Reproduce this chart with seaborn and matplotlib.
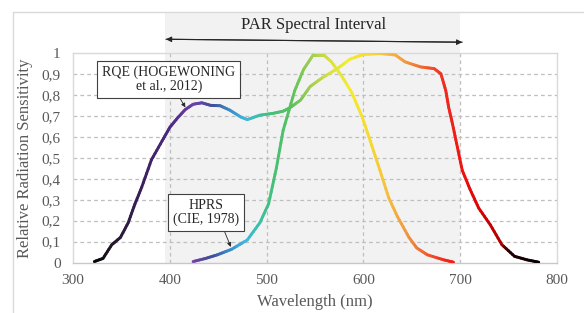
import numpy as np
import pandas as pd
import matplotlib
matplotlib.use("Agg")
import matplotlib.pyplot as plt
import seaborn as sns
from matplotlib.colors import LinearSegmentedColormap
from matplotlib.patches import Rectangle
from matplotlib.lines import Line2D

# RQE (Hogewoning et al., 2012)
rqe_wl = [322, 331, 340, 349, 357, 364, 371, 381, 392, 400, 408, 416, 424, 433,
          442, 452, 462, 473, 480, 493, 507, 517, 524, 535, 545, 557, 573, 586,
          600, 617, 633, 643, 659, 673, 680, 685, 688, 692, 697, 702, 710, 719,
          731, 743, 756, 769, 781]
rqe_val = [0.005, 0.02, 0.085, 0.12, 0.19, 0.28, 0.36, 0.49, 0.58, 0.645, 0.69, 0.73, 0.755, 0.762,
           0.75, 0.748, 0.727, 0.695, 0.682, 0.703, 0.712, 0.722, 0.738, 0.775, 0.84, 0.88, 0.925, 0.97,
           0.993, 0.997, 0.99, 0.957, 0.933, 0.925, 0.9, 0.82, 0.74, 0.66, 0.55, 0.44, 0.35, 0.26,
           0.18, 0.085, 0.03, 0.013, 0.002]

# HPRS (CIE, 1978)
hprs_wl = [424, 437, 449, 464, 480, 493, 502, 510, 517, 529, 538, 548, 559, 567,
           578, 588, 599, 607, 617, 626, 635, 647, 655, 666, 683, 693]
hprs_val = [0.005, 0.02, 0.037, 0.064, 0.108, 0.19, 0.28, 0.45, 0.63, 0.82, 0.92, 0.99, 0.99, 0.957,
            0.886, 0.81, 0.69, 0.58, 0.44, 0.31, 0.22, 0.12, 0.07, 0.037, 0.013, 0.002]

x_ticks = [300, 400, 500, 600, 700, 800]
y_ticks = [0, 0.1, 0.2, 0.3, 0.4, 0.5, 0.6, 0.7, 0.8, 0.9, 1]
y_labels = ['0', '0,1', '0,2', '0,3', '0,4', '0,5', '0,6', '0,7', '0,8', '0,9', '1']
par_range = [395, 700]

# Colores segun la longitud de onda
spec_stops = [(320, '#000000'), (340, '#241828'), (370, '#3a1f5c'), (400, '#4b2a80'),
              (425, '#7040a8'), (445, '#3d4f9a'), (462, '#3a8cc8'), (478, '#3fb6e0'),
              (492, '#3cc0a8'), (505, '#44c07a'), (525, '#58c060'), (545, '#9ccc50'),
              (565, '#d6e040'), (585, '#f3ec30'), (605, '#f5dc30'), (625, '#f5c040'),
              (645, '#f09840'), (665, '#f06030'), (685, '#f02a20'), (705, '#ee1010'),
              (725, '#d40000'), (743, '#b00000'), (752, '#200000'), (790, '#000000')]
lo, hi = spec_stops[0][0], spec_stops[-1][0]
cmap = LinearSegmentedColormap.from_list(
    'spec', [((w - lo) / (hi - lo), c) for w, c in spec_stops])


def segmentos(wl, val, nombre, k=6):
    # cada tramo recto se parte en k trozos solo para el degradado de color
    filas, colores = [], []
    seg = 0
    for i in range(len(wl) - 1):
        for j in range(k):
            t0, t1 = j / k, (j + 1) / k
            x0 = wl[i] + (wl[i + 1] - wl[i]) * t0
            x1 = wl[i] + (wl[i + 1] - wl[i]) * t1
            y0 = val[i] + (val[i + 1] - val[i]) * t0
            y1 = val[i] + (val[i + 1] - val[i]) * t1
            sid = f'{nombre}{seg}'
            filas.append((sid, x0, y0))
            filas.append((sid, x1, y1))
            colores.append((sid, cmap(((x0 + x1) / 2 - lo) / (hi - lo))))
            seg += 1
    return filas, colores


filas_r, col_r = segmentos(rqe_wl, rqe_val, 'r')
filas_h, col_h = segmentos(hprs_wl, hprs_val, 'h')
df = pd.DataFrame(filas_r + filas_h, columns=['seg', 'wl', 'val'])
paleta = dict(col_r + col_h)

sns.set_theme(style='white')
plt.rcParams['font.family'] = ['Liberation Serif', 'DejaVu Serif']

fig = plt.figure(figsize=(5.84, 3.13), dpi=100)
ax = fig.add_axes([0.125, 0.161, 0.829, 0.670])

# zona PAR sombreada (sube por encima del grafico)
ax.add_patch(Rectangle((par_range[0], 0), par_range[1] - par_range[0], 1.194,
                       facecolor='#f2f2f2', edgecolor='none', zorder=0, clip_on=False))

sns.lineplot(data=df, x='wl', y='val', hue='seg', units='seg', estimator=None,
             palette=paleta, legend=False, linewidth=2.1, ax=ax, zorder=3,
             solid_capstyle='round')

ax.set_xlim(300, 800)
ax.set_ylim(0, 1)
ax.set_xticks(x_ticks)
ax.set_xticklabels([str(v) for v in x_ticks])
ax.set_yticks(y_ticks)
ax.set_yticklabels(y_labels)
ax.tick_params(axis='both', length=0, labelsize=11, colors='#595959', pad=8)
ax.tick_params(axis='y', pad=9)

for y in y_ticks[1:-1]:
    ax.axhline(y, color='#bfbfbf', lw=0.9, ls=(0, (3, 2.5)), zorder=1)
for x in x_ticks[1:-1]:
    ax.axvline(x, color='#bfbfbf', lw=0.9, ls=(0, (3, 2.5)), zorder=1)

for s in ax.spines.values():
    s.set_color('#d9d9d9')
    s.set_linewidth(1.0)
ax.spines['bottom'].set_color('#c8c8c8')
ax.set_facecolor('none')

ax.set_xlabel('Wavelength (nm)', fontsize=12, color='#595959', labelpad=5)
ax.set_ylabel('Relative Radiation Sensitivity', fontsize=12, color='#595959', labelpad=6)

# flecha del intervalo PAR
ax.annotate('', xy=(702, 1.051), xytext=(396, 1.065), annotation_clip=False,
            arrowprops=dict(arrowstyle='-|>', color='#262626', lw=0.8,
                            shrinkA=0, shrinkB=0, mutation_scale=8))
ax.annotate('', xy=(396, 1.065), xytext=(702, 1.051), annotation_clip=False,
            arrowprops=dict(arrowstyle='-|>', color='#262626', lw=0.8,
                            shrinkA=0, shrinkB=0, mutation_scale=8))
ax.text(548, 1.132, 'PAR Spectral Interval', ha='center', va='center',
        fontsize=12, color='#262626', clip_on=False)

caja = dict(boxstyle='square,pad=0.35', facecolor='white', edgecolor='#404040', lw=0.8)
ax.annotate('RQE (HOGEWONING\net al., 2012)', xy=(416, 0.74), xytext=(399, 0.875),
            ha='center', va='center', fontsize=10, color='#262626', bbox=caja,
            linespacing=1.05, zorder=5,
            arrowprops=dict(arrowstyle='-|>', color='#262626', lw=0.6,
                            mutation_scale=6, shrinkA=0, shrinkB=0))
ax.annotate('HPRS\n(CIE, 1978)', xy=(463, 0.075), xytext=(437, 0.24),
            ha='center', va='center', fontsize=10, color='#262626', bbox=caja,
            linespacing=1.05, zorder=5,
            arrowprops=dict(arrowstyle='-|>', color='#262626', lw=0.6,
                            mutation_scale=6, shrinkA=0, shrinkB=0,
                            relpos=(0.75, 0)))

# marco exterior
fig.add_artist(Line2D([13 / 584, 1], [1 - 12 / 313, 1 - 12 / 313], color='#d9d9d9', lw=1.0))
fig.add_artist(Line2D([13 / 584, 13 / 584], [0, 1 - 12 / 313], color='#d9d9d9', lw=1.0))

fig.savefig('out.png', dpi=100)
